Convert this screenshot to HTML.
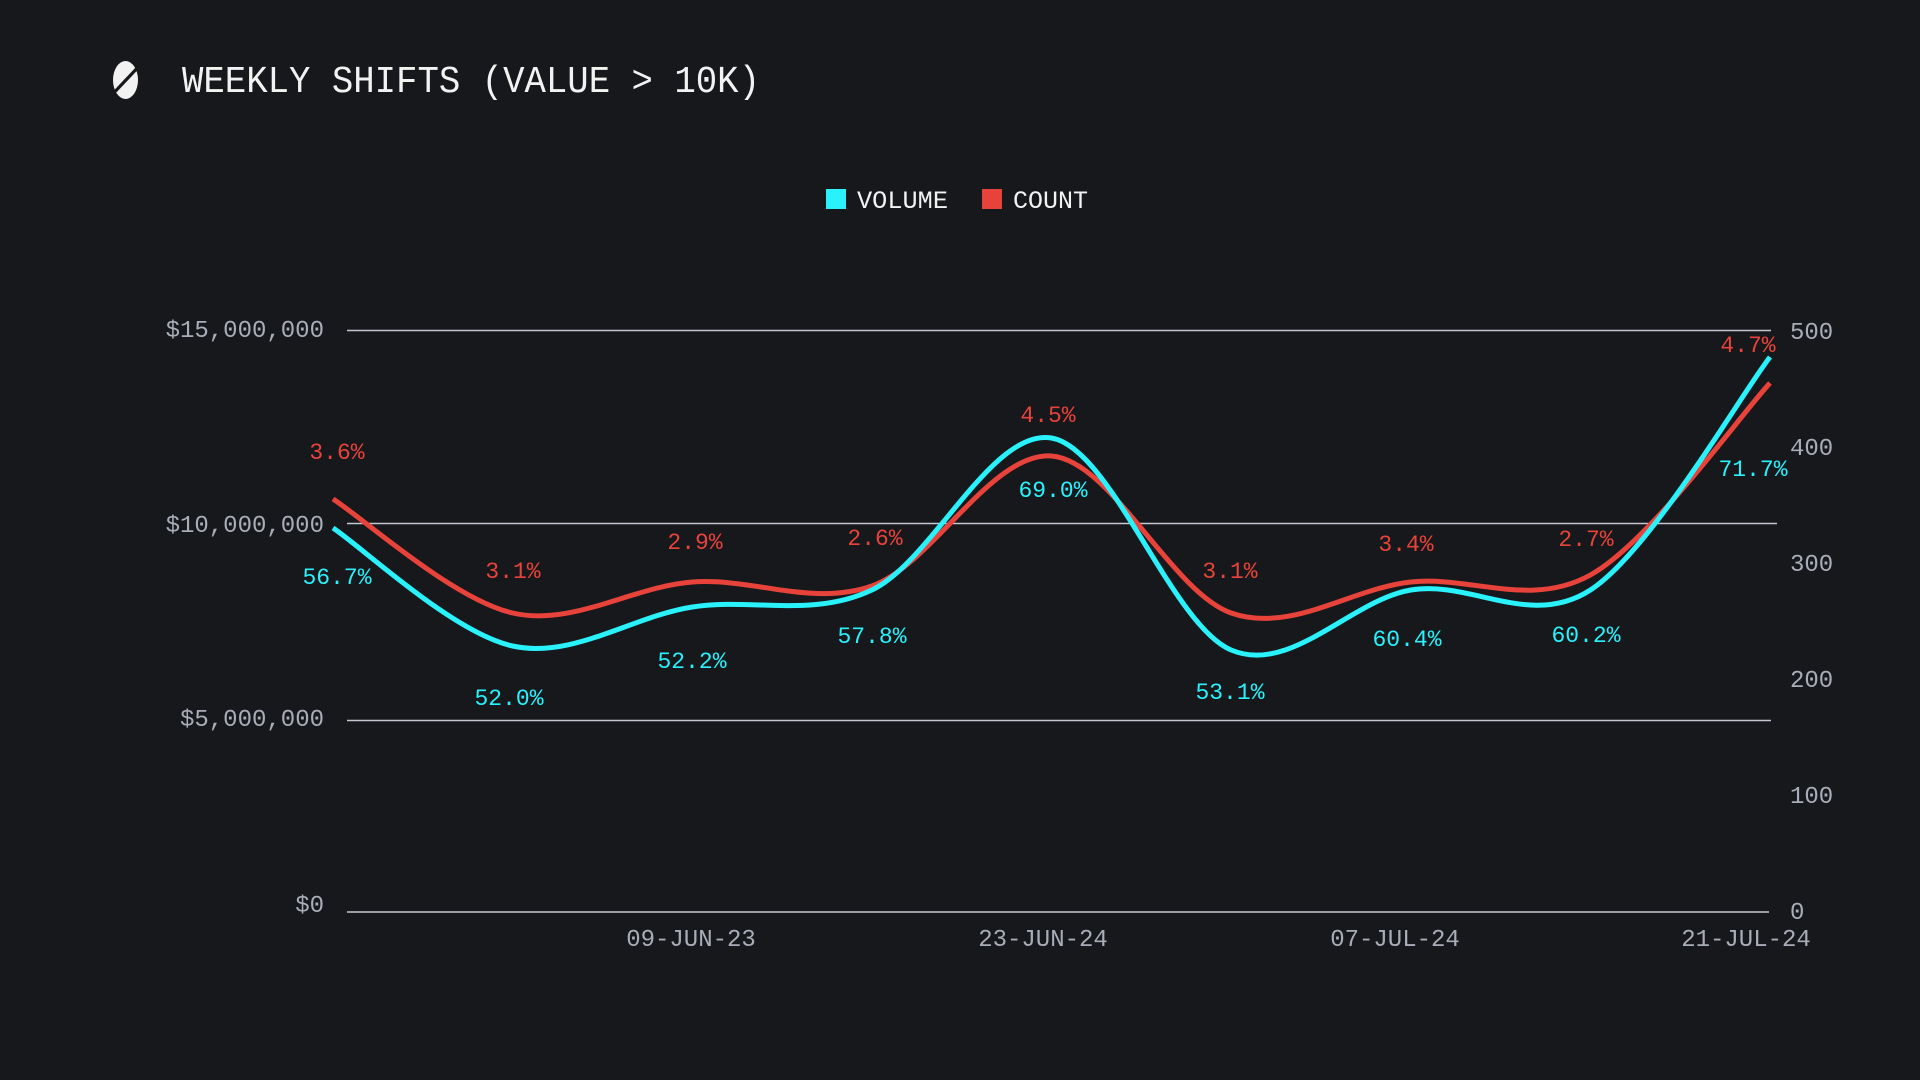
<!DOCTYPE html>
<html>
<head>
<meta charset="utf-8">
<style>
  html, body { margin:0; padding:0; background:#17181c; }
  body { width:1920px; height:1080px; overflow:hidden; }
  svg { display:block; }
  text { font-family: "Liberation Mono", "DejaVu Sans Mono", monospace; }
</style>
</head>
<body>
<svg width="1920" height="1080" viewBox="0 0 1920 1080" xmlns="http://www.w3.org/2000/svg">
  <rect x="0" y="0" width="1920" height="1080" fill="#17181c"/>

  <!-- Logo -->
  <g>
    <ellipse cx="125.5" cy="80" rx="12.5" ry="19" fill="#f2f2f2"/>
    <line x1="142" y1="63" x2="109" y2="98" stroke="#17181c" stroke-width="3.2"/>
  </g>

  <!-- Title -->
  <text x="182" y="92" font-size="35" fill="#f2f2f2" transform="translate(0,92) scale(1,1.08) translate(0,-92)" textLength="578" lengthAdjust="spacingAndGlyphs">WEEKLY SHIFTS (VALUE &gt; 10K)</text>

  <!-- Legend -->
  <rect x="826" y="189" width="20" height="20" fill="#29f2fc"/>
  <text x="857" y="208" font-size="25" fill="#f2f2f2" textLength="91" lengthAdjust="spacingAndGlyphs">VOLUME</text>
  <rect x="982" y="189" width="20" height="20" fill="#e8433a"/>
  <text x="1013" y="208" font-size="25" fill="#f2f2f2" textLength="75" lengthAdjust="spacingAndGlyphs">COUNT</text>

  <!-- Gridlines -->
  <g stroke="#c5c8d0" stroke-width="1.4">
    <line x1="347" y1="330.5" x2="1771" y2="330.5"/>
    <line x1="347" y1="523.5" x2="1777" y2="523.5"/>
    <line x1="347" y1="720.5" x2="1771" y2="720.5"/>
    <line x1="347" y1="912" x2="1769" y2="912"/>
  </g>

  <!-- Left axis labels -->
  <g font-size="24" fill="#a9adb7" text-anchor="end">
    <text x="324" y="337">$15,000,000</text>
    <text x="324" y="532">$10,000,000</text>
    <text x="324" y="726">$5,000,000</text>
    <text x="324" y="912">$0</text>
  </g>

  <!-- Right axis labels -->
  <g font-size="24" fill="#a9adb7" text-anchor="start">
    <text x="1790" y="339">500</text>
    <text x="1790" y="455">400</text>
    <text x="1790" y="571">300</text>
    <text x="1790" y="687">200</text>
    <text x="1790" y="803">100</text>
    <text x="1790" y="919">0</text>
  </g>

  <!-- X axis labels -->
  <g font-size="24" fill="#a9adb7" text-anchor="middle">
    <text x="691" y="946">09-JUN-23</text>
    <text x="1043" y="946">23-JUN-24</text>
    <text x="1395" y="946">07-JUL-24</text>
    <text x="1746" y="946">21-JUL-24</text>
  </g>

  <!-- Series (fallback polylines replaced by Catmull-Rom via script) -->
  <path id="redLine" fill="none" stroke="#e8433a" stroke-width="5" stroke-linejoin="round"
    d="M333,499 L512.6,613 L692.3,582 L871.9,586 L1051.5,456 L1231.1,613 L1410.8,582 L1590.4,575 L1770,383"/>
  <path id="cyanLine" fill="none" stroke="#29f2fc" stroke-width="5" stroke-linejoin="round"
    d="M333,528 L512.6,646 L692.3,607 L871.9,590 L1051.5,438 L1231.1,650 L1410.8,590 L1590.4,590 L1770,357"/>

  <!-- Count labels (red) -->
  <g font-size="23" fill="#e8433a" text-anchor="middle">
    <text x="337" y="459">3.6%</text>
    <text x="513" y="578">3.1%</text>
    <text x="695" y="549">2.9%</text>
    <text x="875" y="545">2.6%</text>
    <text x="1048" y="422">4.5%</text>
    <text x="1230" y="578">3.1%</text>
    <text x="1406" y="551">3.4%</text>
    <text x="1586" y="546">2.7%</text>
    <text x="1748" y="352">4.7%</text>
  </g>

  <!-- Volume labels (cyan) -->
  <g font-size="23" fill="#29f2fc" text-anchor="middle">
    <text x="337" y="584">56.7%</text>
    <text x="509" y="705">52.0%</text>
    <text x="692" y="668">52.2%</text>
    <text x="872" y="643">57.8%</text>
    <text x="1053" y="497">69.0%</text>
    <text x="1230" y="699">53.1%</text>
    <text x="1407" y="646">60.4%</text>
    <text x="1586" y="642">60.2%</text>
    <text x="1753" y="476">71.7%</text>
  </g>
</svg>
<script>
(function(){
  function cr(pts){
    var d = "M" + pts[0][0] + "," + pts[0][1];
    for (var i = 0; i < pts.length - 1; i++) {
      var p0 = pts[i-1] || pts[i], p1 = pts[i], p2 = pts[i+1], p3 = pts[i+2] || pts[i+1];
      var c1x = p1[0] + (p2[0]-p0[0])/6, c1y = p1[1] + (p2[1]-p0[1])/6;
      var c2x = p2[0] - (p3[0]-p1[0])/6, c2y = p2[1] - (p3[1]-p1[1])/6;
      d += " C" + c1x.toFixed(1) + "," + c1y.toFixed(1) + " " + c2x.toFixed(1) + "," + c2y.toFixed(1) + " " + p2[0] + "," + p2[1];
    }
    return d;
  }
  function parse(d){
    return d.replace(/[ML]/g," ").trim().split(/\s+/).map(function(s){var a=s.split(",");return [parseFloat(a[0]),parseFloat(a[1])];});
  }
  ["redLine","cyanLine"].forEach(function(id){
    var el = document.getElementById(id);
    el.setAttribute("d", cr(parse(el.getAttribute("d"))));
  });
})();
</script>
</body>
</html>
